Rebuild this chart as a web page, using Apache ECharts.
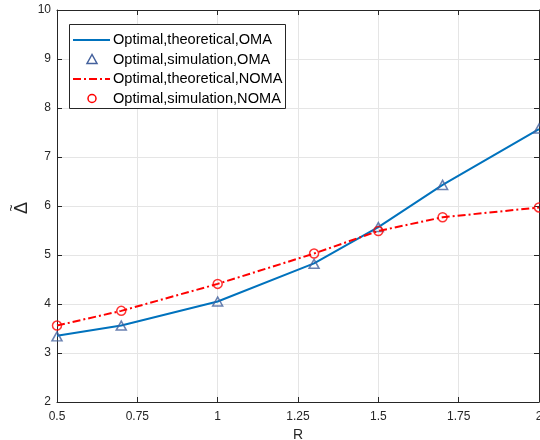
<!DOCTYPE html>
<html><head><meta charset="utf-8">
<script src="https://cdn.jsdelivr.net/npm/echarts@6/dist/echarts.min.js"></script>
<style>html,body{margin:0;padding:0;background:#fff}#c{width:540px;height:440px}</style>
</head><body><div id="c"></div>
<script>
const xVals = [0.5, 0.7, 1.0, 1.3, 1.5, 1.7, 2.0];
const omaTheory = [3.35, 3.56, 4.05, 4.83, 5.57, 6.43, 7.57];
const omaSim = [3.34, 3.56, 4.05, 4.82, 5.57, 6.43, 7.58];
const nomaTheory = [3.56, 3.86, 4.41, 5.03, 5.49, 5.77, 5.97];
const nomaSim = [3.56, 3.86, 4.41, 5.03, 5.49, 5.77, 5.97];
const seriesNames = ['Optimal,theoretical,OMA','Optimal,simulation,OMA','Optimal,theoretical,NOMA','Optimal,simulation,NOMA'];
const xName = 'R';
const yNameMain = 'Δ';
const yNameAccent = '~';

const pair = a => xVals.map((x,i)=>[x,a[i]]);
const axisColor = '#262626';
const blue = '#0072BD', triColor = '#44619d', red = '#ff0000';
const font = 'Liberation Sans, Arial, Helvetica, sans-serif';
const chart = echarts.init(document.getElementById('c'));

// legend drawn as graphic (line styles + hollow markers)
const lg = {x:69, y:24, w:216, h:84, rows:[40, 59.5, 79, 98.5], lx0:73, lx1:110, sx:92, tx:113};
const els = [
  {type:'rect', shape:{x:lg.x+0.5,y:lg.y+0.5,width:lg.w,height:lg.h}, style:{fill:'#fff',stroke:axisColor,lineWidth:1}, z:100},
  {type:'line', shape:{x1:lg.lx0,y1:lg.rows[0],x2:lg.lx1,y2:lg.rows[0]}, style:{stroke:blue,lineWidth:2}, z:101},
  {type:'polygon', shape:{points:[[lg.sx,lg.rows[1]-5],[lg.sx-5,lg.rows[1]+4],[lg.sx+5,lg.rows[1]+4]]}, style:{fill:'none',stroke:triColor,lineWidth:1.5}, z:101},
  {type:'line', shape:{x1:lg.lx0,y1:lg.rows[2],x2:lg.lx1,y2:lg.rows[2]}, style:{stroke:red,lineWidth:2,lineDash:[8,3,2,3]}, z:101},
  {type:'circle', shape:{cx:lg.sx,cy:lg.rows[3],r:4}, style:{fill:'none',stroke:red,lineWidth:1.5}, z:101}
];
seriesNames.forEach((n,i)=>els.push({type:'text', x:lg.tx, y:lg.rows[i], style:{text:n, fontSize:14.6, fontFamily:font, fill:'#000', verticalAlign:'middle', textVerticalAlign:'middle'}, z:101}));
// rotated y-axis name (Delta with tilde), rotated 90deg counter-clockwise
els.push({type:'text', x:22, y:208, rotation:Math.PI/2, originX:0, originY:0,
  style:{text:yNameMain, fontSize:18, fontFamily:font, fill:axisColor, align:'center', verticalAlign:'middle', textAlign:'center', textVerticalAlign:'middle'}, z:50});
els.push({type:'text', x:12, y:208, rotation:Math.PI/2, originX:0, originY:0,
  style:{text:yNameAccent, fontSize:12, fontFamily:font, fill:axisColor, align:'center', verticalAlign:'middle', textAlign:'center', textVerticalAlign:'middle'}, z:50});

chart.setOption({
  animation:false,
  textStyle:{fontFamily:font},
  grid:{left:57,right:1,top:10,bottom:38,outerBoundsMode:'none',containLabel:false},
  graphic:els,
  xAxis:[{
    type:'value', min:0.5, max:2, interval:0.25,
    name:xName, nameLocation:'middle', nameGap:25,
    nameTextStyle:{fontSize:14,color:axisColor},
    axisLine:{lineStyle:{color:axisColor,width:1}},
    axisTick:{inside:true,length:5,lineStyle:{color:axisColor}},
    axisLabel:{fontSize:12,color:axisColor,margin:9,formatter:v=>String(v),hideOverlap:false},
    splitLine:{show:true,lineStyle:{color:'#e5e5e5',width:1}}
  },{
    type:'value', min:0.5, max:2, interval:0.25, position:'top',
    axisLine:{show:true,lineStyle:{color:axisColor}},
    axisTick:{show:true,inside:true,length:5,lineStyle:{color:axisColor}},
    axisLabel:{show:false}, splitLine:{show:false}
  }],
  yAxis:[{
    type:'value', min:2, max:10, interval:1,
    axisLine:{show:true,lineStyle:{color:axisColor,width:1}},
    axisTick:{show:true,inside:true,length:5,lineStyle:{color:axisColor}},
    axisLabel:{fontSize:12,color:axisColor,margin:6},
    splitLine:{show:true,lineStyle:{color:'#e5e5e5',width:1}}
  },{
    type:'value', min:2, max:10, interval:1, position:'right',
    axisLine:{show:true,lineStyle:{color:axisColor}},
    axisTick:{show:true,inside:true,length:5,lineStyle:{color:axisColor}},
    axisLabel:{show:false}, splitLine:{show:false}
  }],
  series:[
    {name:seriesNames[0],type:'line',data:pair(omaTheory),symbol:'none',
     lineStyle:{color:blue,width:2},itemStyle:{color:blue},z:2},
    {name:seriesNames[1],type:'scatter',data:pair(omaSim),symbol:'triangle',symbolSize:[10,9],
     itemStyle:{color:'rgba(0,0,0,0)',borderColor:triColor,borderWidth:1.5},z:3},
    {name:seriesNames[2],type:'line',data:pair(nomaTheory),symbol:'none',
     lineStyle:{color:red,width:2,type:[8,3,2,3]},itemStyle:{color:red},z:4},
    {name:seriesNames[3],type:'scatter',data:pair(nomaSim),symbol:'circle',symbolSize:9,
     itemStyle:{color:'rgba(0,0,0,0)',borderColor:red,borderWidth:1.5},z:5}
  ]
});
</script></body></html>
